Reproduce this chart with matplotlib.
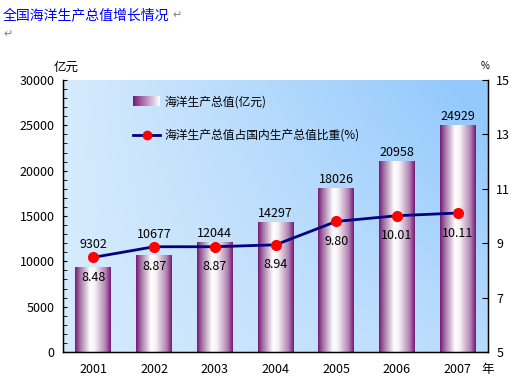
import numpy as np
import matplotlib
matplotlib.use("Agg")
import matplotlib.pyplot as plt
from matplotlib.colors import LinearSegmentedColormap

plt.rcParams['font.family'] = ['Noto Sans CJK SC', 'DejaVu Sans']

years = ['2001', '2002', '2003', '2004', '2005', '2006', '2007']
output = [9302, 10677, 12044, 14297, 18026, 20958, 24929]
share = [8.48, 8.87, 8.87, 8.94, 9.80, 10.01, 10.11]
share_labels = ['8.48', '8.87', '8.87', '8.94', '9.80', '10.01', '10.11']

W, H = 516, 382
fig = plt.figure(figsize=(W / 100, H / 100), dpi=100)
L, R, T, B = 63, 488, 80, 352
ax = fig.add_axes([L / W, 1 - B / H, (R - L) / W, (B - T) / H])

# background gradient
nx, ny = 200, 100
gx = np.linspace(0, 1, nx)[None, :]
gy = np.linspace(0, 1, ny)[:, None]
t = np.clip(gx * (0.45 + 0.65 * gy), 0, 1)
c0 = np.array([0.84, 0.92, 0.99])
c1 = np.array([0.58, 0.79, 0.99])
bg = c0[None, None, :] * (1 - t[..., None]) + c1[None, None, :] * t[..., None]
ax.imshow(bg, extent=[0, 1, 0, 1], transform=ax.transAxes, origin='lower',
          aspect='auto', zorder=0, interpolation='bilinear')

ax.set_xlim(-0.5, len(years) - 0.5)
ax.set_ylim(0, 30000)

# bars with cylinder gradient
purple = (0.47, 0.10, 0.47)
cyl = LinearSegmentedColormap.from_list('cyl', [(0.0, purple), (0.12, (0.62, 0.42, 0.62)),
                                                (0.42, (1, 1, 1)), (0.55, (0.97, 0.95, 0.97)),
                                                (0.85, (0.70, 0.52, 0.70)), (1.0, purple)])
grad = np.linspace(0, 1, 100)[None, :]
x = np.arange(len(years))
bw = 0.59
for xi, v, s in zip(x, output, share):
    ax.imshow(grad, cmap=cyl, extent=[xi - bw / 2, xi + bw / 2, 0, v], aspect='auto',
              zorder=2, interpolation='bilinear')
    pt = (s - 5) / 10 * 30000
    base = max(v, pt + 400)
    ax.text(xi, base + 1000, str(v), ha='center', va='center', fontsize=9, zorder=5)

ax.set_yticks(np.arange(0, 30001, 5000))
ax.set_yticks(np.arange(0, 30001, 1000), minor=True)
ax.set_xticks(x)
ax.set_xticklabels(years, fontsize=9)
ax.tick_params(axis='x', length=0, pad=8)
ax.tick_params(axis='y', which='both', direction='in', length=3, labelsize=9, pad=6)
ax.spines['top'].set_visible(False)
for sp in ['left', 'bottom', 'right']:
    ax.spines[sp].set_linewidth(1.0)

ax2 = ax.twinx()
ax2.set_ylim(5, 15)
ax2.set_yticks([5, 7, 9, 11, 13, 15])
ax2.tick_params(axis='y', direction='in', length=4, labelsize=9, pad=6)
ax2.spines['top'].set_visible(False)
ax2.plot(x, share, color='#000080', lw=2, marker='o', markersize=7,
         markerfacecolor='red', markeredgecolor='red', zorder=4)
for xi, v, lab in zip(x, share, share_labels):
    ax2.annotate(lab, (xi, v), xytext=(0, -20), textcoords='offset pixels',
                 ha='center', va='center', fontsize=9, zorder=5)

# legend (manual)
lg = np.linspace(0, 1, 100)[None, :]
lcm = LinearSegmentedColormap.from_list('lg', [purple, (1, 1, 1)])
ax2.imshow(lg, cmap=lcm, extent=[0.165, 0.228, 0.904, 0.9375], transform=ax2.transAxes,
           aspect='auto', zorder=5)
ax2.text(0.238, 0.919, '海洋生产总值(亿元)', transform=ax2.transAxes, va='center',
         ha='left', fontsize=8.5)
ax2.plot([0.165, 0.228], [0.798, 0.798], transform=ax2.transAxes, color='#000080', lw=2)
ax2.plot([0.1965], [0.798], transform=ax2.transAxes, marker='o', markersize=6,
         color='red', linestyle='none')
ax2.text(0.238, 0.798, '海洋生产总值占国内生产总值比重(%)', transform=ax2.transAxes,
         va='center', ha='left', fontsize=8.5)

# surrounding texts
fig.text(3 / W, 1 - 15 / H, '全国海洋生产总值增长情况', color='#0000ff', fontsize=10,
         va='center', ha='left')
fig.text(172 / W, 1 - 15 / H, '↵', color='gray', fontsize=8, va='center', ha='left')
fig.text(3 / W, 1 - 34 / H, '↵', color='gray', fontsize=8, va='center', ha='left')
fig.text(66 / W, 1 - 67 / H, '亿元', fontsize=9, va='center', ha='center')
fig.text(485 / W, 1 - 66 / H, '%', fontsize=7, va='center', ha='center')
fig.text(488 / W, 1 - 369 / H, '年', fontsize=9, va='center', ha='center')

fig.savefig('out.png', dpi=100)
